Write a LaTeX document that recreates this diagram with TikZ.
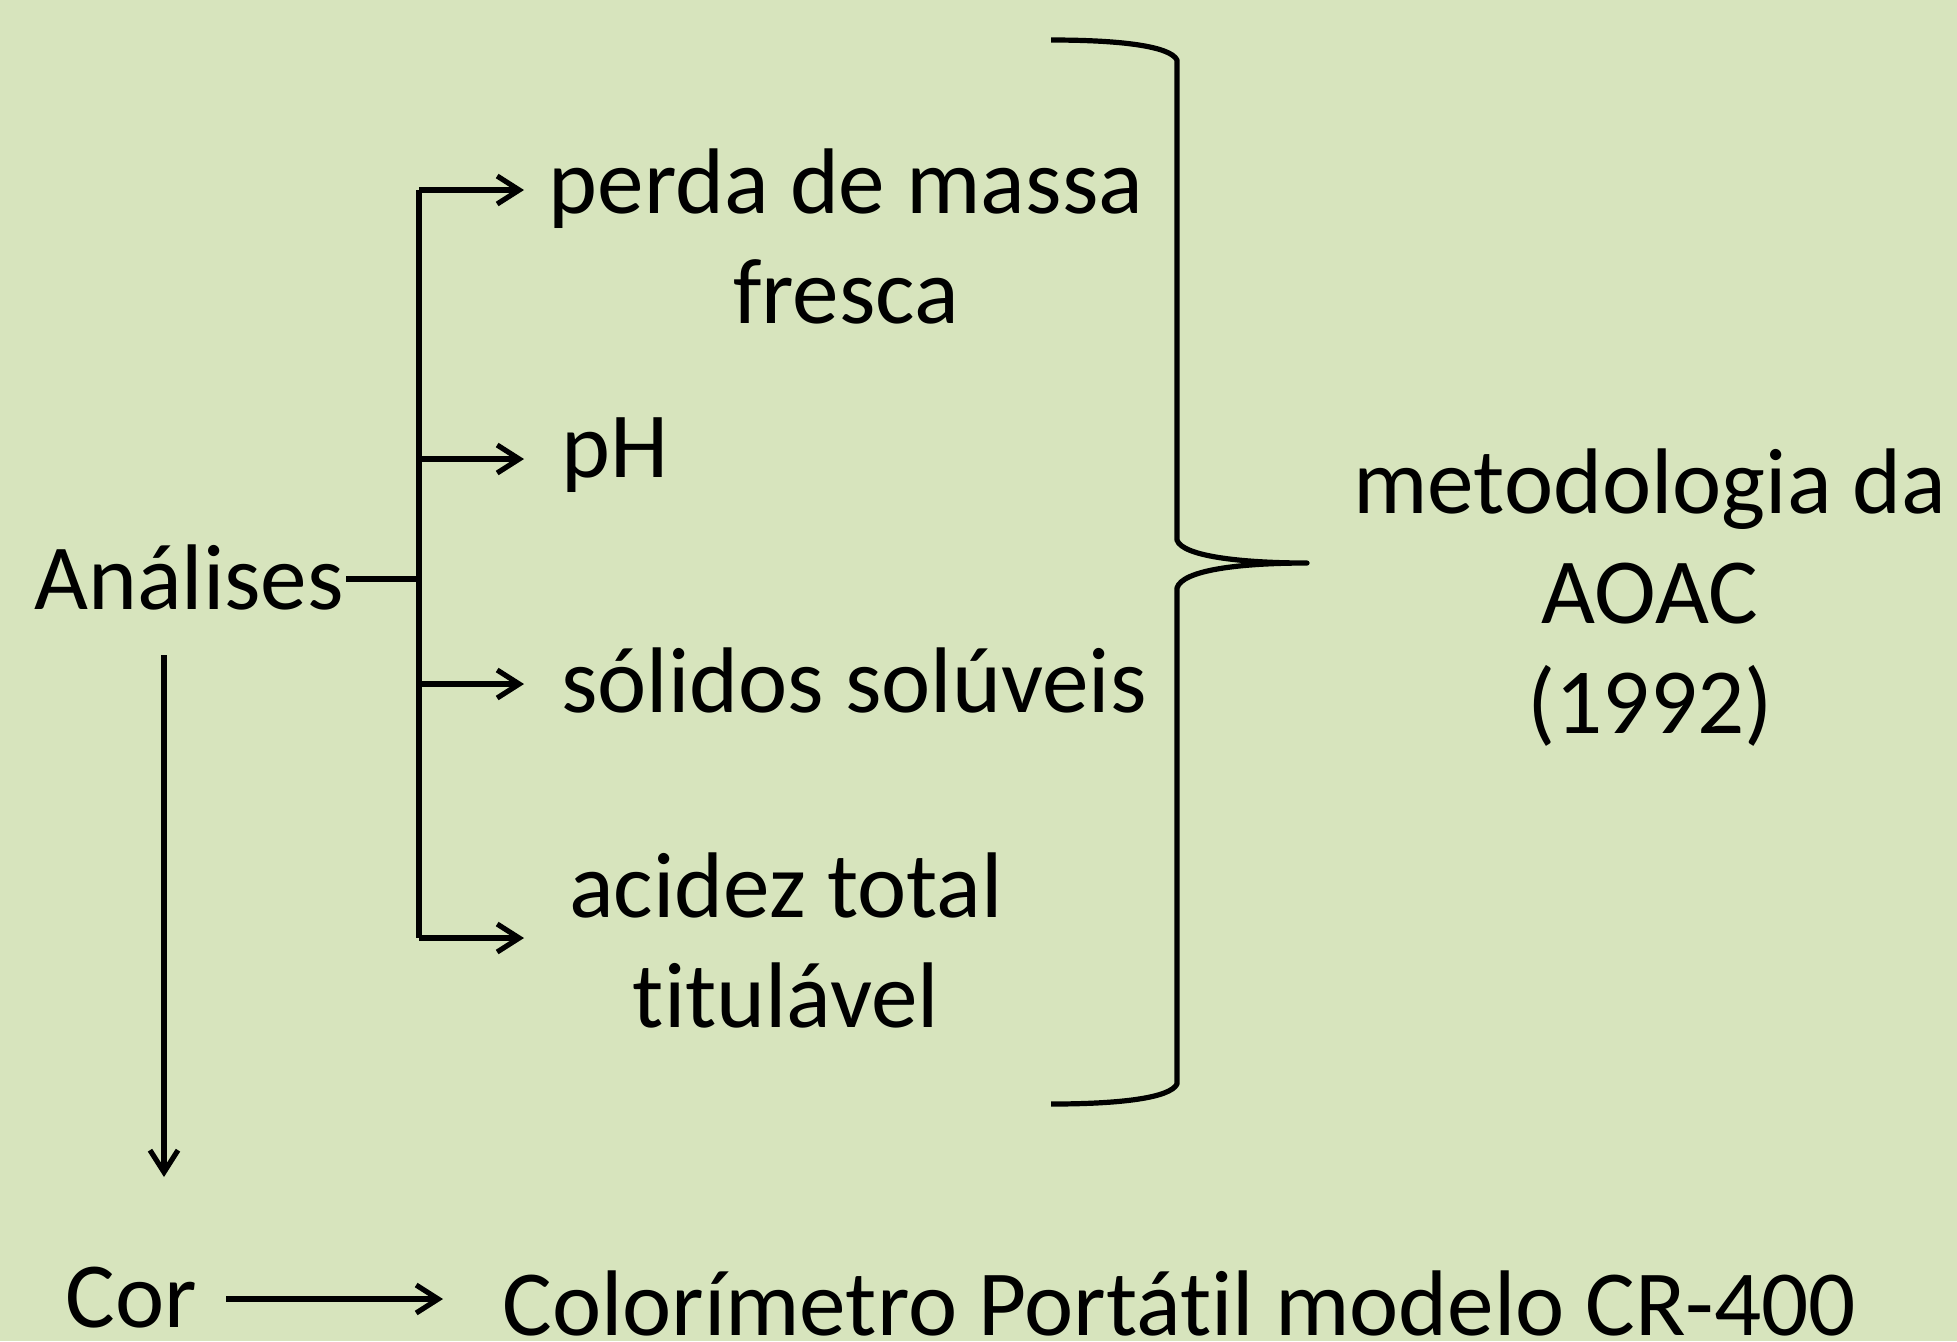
\documentclass[tikz,border=0pt]{standalone}
\usepackage{fontspec}
\setmainfont{Carlito}[RawFeature={-liga}]
\usetikzlibrary{arrows.meta}
\definecolor{bg}{HTML}{D7E4BD}
\begin{document}
\begin{tikzpicture}[x=0.5pt,y=-0.5pt,
  lbl/.style={font=\fontsize{46.6pt}{55pt}\selectfont, inner sep=0pt, align=center, text=black},
  ln/.style={line width=2.6pt, black},
  arr/.style={ln, -{Straight Barb[length=11pt,width=14pt,line width=2.6pt]}},
  brace/.style={line width=2.6pt, black, line join=round}]
\fill[bg] (0,0) rectangle (1957,1341);
\useasboundingbox (0,0) rectangle (1957,1341);
% nodes
\node[lbl] (an) at (189,577) {Análises};
\node[lbl] (p1) at (846,236) {perda de massa\\fresca};
\node[lbl,anchor=west] (p2) at (561,455) {pH};
\node[lbl,anchor=west] (p3) at (561,680) {sólidos solúveis};
\node[lbl] (p4) at (786,940) {acidez total\\titulável};
\node[lbl] (met) at (1650,598) {metodologia da\\AOAC\\(1992)};
\node[lbl] (cor) at (131,1298) {Cor};
\node[lbl,anchor=west] (col) at (502,1303) {Colorímetro Portátil modelo CR-400};
% trunk coordinates
\coordinate (jn) at (419,579);
\coordinate (b1) at (419,190);
\coordinate (b2) at (419,459);
\coordinate (b3) at (419,684);
\coordinate (b4) at (419,938);
\coordinate (t1) at (524,190);
\coordinate (t2) at (524,459);
\coordinate (t3) at (524,684);
\coordinate (t4) at (524,938);
\coordinate (d0) at (164,655);
\coordinate (d1) at (164,1177);
\coordinate (c0) at (226,1299);
\coordinate (c1) at (443,1299);
\coordinate (tip) at (1307,563);
% connectors
\draw[ln] (an.east) ++(2,2) -- (jn);
\draw[ln] (b1) -- (b4);
\draw[arr] (b1) -- (t1);
\draw[arr] (b2) -- (t2);
\draw[arr] (b3) -- (t3);
\draw[arr] (b4) -- (t4);
\draw[arr] (d0) -- (d1);
\draw[arr] (c0) -- (c1);
% brace
\draw[brace] (1051,40) .. controls (1120,40) and (1170,46) .. (1177,60) -- (1177,540)
  .. controls (1182,556) and (1240,563) .. (tip)
  .. controls (1240,563) and (1182,570) .. (1177,588) -- (1177,1084)
  .. controls (1170,1098) and (1120,1104) .. (1051,1104);
\end{tikzpicture}
\end{document}
